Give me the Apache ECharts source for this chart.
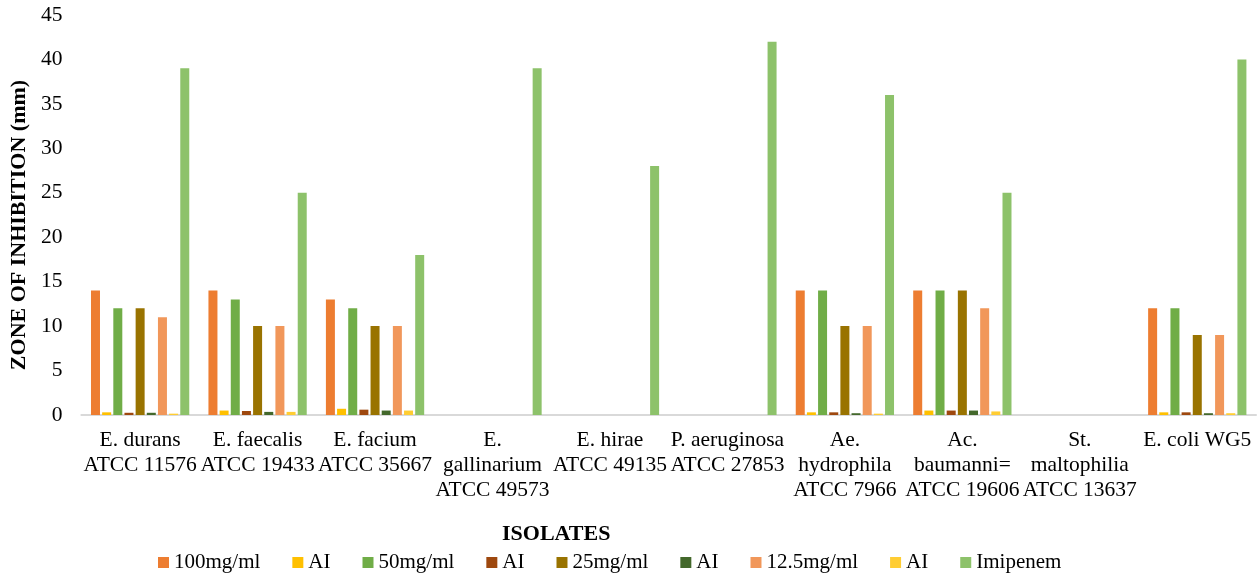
<!DOCTYPE html>
<html>
<head>
<meta charset="utf-8">
<script src="https://cdn.jsdelivr.net/npm/echarts@6/dist/echarts.min.js"></script>
<style>
  html, body { margin: 0; padding: 0; background: #ffffff; }
  #chart { width: 1260px; height: 578px; }
</style>
</head>
<body>
<div id="chart"></div>
<script>
// Isolates on the category axis
const isolates = [
  'E. durans\nATCC 11576',
  'E. faecalis\nATCC 19433',
  'E. facium\nATCC 35667',
  'E.\ngallinarium\nATCC 49573',
  'E. hirae\nATCC 49135',
  'P. aeruginosa\nATCC 27853',
  'Ae.\nhydrophila\nATCC 7966',
  'Ac.\nbaumanni=\nATCC 19606',
  'St.\nmaltophilia\nATCC 13637',
  'E. coli WG5'
];

// Zone of inhibition (mm) per concentration, with the AI value after each
const conc100 = [14, 14, 13, 0, 0, 0, 14, 14, 0, 12];
const ai100   = [0.3, 0.5, 0.7, 0, 0, 0, 0.3, 0.5, 0, 0.3];
const conc50  = [12, 13, 12, 0, 0, 0, 14, 14, 0, 12];
const ai50    = [0.25, 0.45, 0.6, 0, 0, 0, 0.3, 0.5, 0, 0.3];
const conc25  = [12, 10, 10, 0, 0, 0, 10, 14, 0, 9];
const ai25    = [0.25, 0.35, 0.5, 0, 0, 0, 0.2, 0.5, 0, 0.2];
const conc12  = [11, 10, 10, 0, 0, 0, 10, 12, 0, 9];
const ai12    = [0.15, 0.35, 0.5, 0, 0, 0, 0.15, 0.4, 0, 0.2];
const imipenem = [39, 25, 18, 39, 28, 42, 36, 25, 0, 40];

const yTicks = [0, 5, 10, 15, 20, 25, 30, 35, 40, 45];

const seriesDefs = [
  { name: '100mg/ml', data: conc100, color: '#ED7D31' },
  { name: 'AI',       data: ai100,   color: '#FFC000' },
  { name: '50mg/ml',  data: conc50,  color: '#70AD47' },
  { name: 'AI ',      data: ai50,    color: '#9E480E' },
  { name: '25mg/ml',  data: conc25,  color: '#997300' },
  { name: 'AI  ',     data: ai25,    color: '#43682B' },
  { name: '12.5mg/ml',data: conc12,  color: '#F1975A' },
  { name: 'AI   ',    data: ai12,    color: '#FFCD33' },
  { name: 'Imipenem', data: imipenem,color: '#8DC26A' }
];

const FONT = '"Liberation Serif", "Times New Roman", serif';

const chart = echarts.init(document.getElementById('chart'), null, { renderer: 'canvas' });

chart.setOption({
  animation: false,
  textStyle: { fontFamily: FONT },
  grid: { left: 79, right: 4, top: 15, bottom: 163, containLabel: false },
  legend: {
    top: 547,
    left: 153,
    itemWidth: 11,
    itemHeight: 11,
    itemGap: 32,
    icon: 'rect',
    textStyle: { fontFamily: FONT, fontSize: 21, color: '#000' },
    formatter: n => n.trim(),
    data: seriesDefs.map(s => s.name)
  },
  xAxis: {
    type: 'category',
    data: isolates,
    name: 'ISOLATES',
    nameLocation: 'middle',
    nameGap: 108,
    nameTextStyle: {
      fontFamily: FONT, fontSize: 22, fontWeight: 'bold', color: '#000',
      padding: [0, 225, 0, 0]
    },
    axisLine: { show: true, lineStyle: { color: '#D9D9D9', width: 2 } },
    axisTick: { show: false },
    axisLabel: {
      interval: 0,
      margin: 13,
      fontFamily: FONT,
      fontSize: 21.5,
      lineHeight: 25,
      color: '#000'
    }
  },
  yAxis: {
    type: 'value',
    min: 0,
    max: 45,
    interval: 5,
    name: 'ZONE OF INHIBITION (mm)',
    nameLocation: 'middle',
    nameGap: 47,
    nameTextStyle: {
      fontFamily: FONT, fontSize: 22, fontWeight: 'bold', color: '#000',
      padding: [0, 20, 0, 0]
    },
    axisLine: { show: false },
    axisTick: { show: false },
    splitLine: { show: false },
    axisLabel: {
      margin: 19,
      fontFamily: FONT,
      fontSize: 21.5,
      color: '#000',
      formatter: v => (yTicks.includes(v) ? String(v) : '')
    }
  },
  series: seriesDefs.map(s => ({
    name: s.name,
    type: 'bar',
    data: s.data,
    barWidth: 9,
    barGap: '24%',
    itemStyle: { color: s.color },
    emphasis: { disabled: true }
  }))
});
</script>
</body>
</html>
